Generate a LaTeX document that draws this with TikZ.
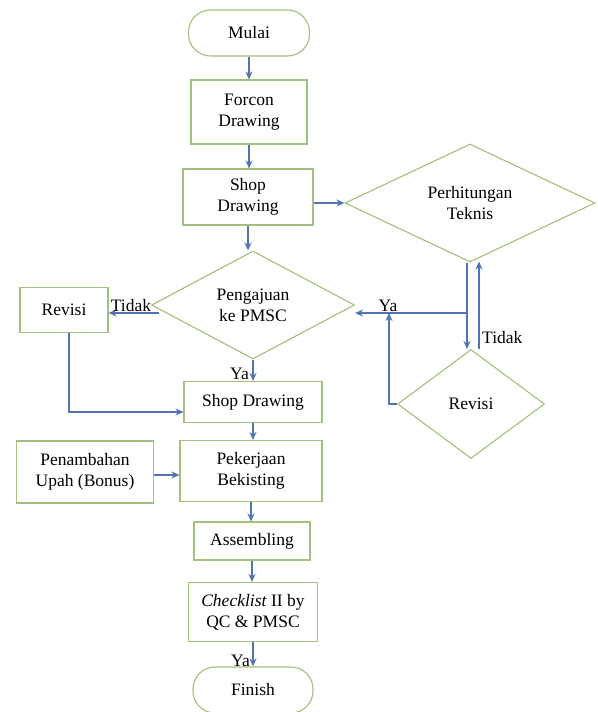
\documentclass[tikz,border=0pt]{standalone}
\usepackage{fontspec}
\setmainfont{Liberation Serif}
\usetikzlibrary{shapes.geometric,arrows.meta,calc}
\definecolor{boxgreen}{RGB}{163,192,124}
\definecolor{arrblue}{RGB}{82,116,178}
\tikzset{
  txt/.style={font=\fontsize{17.5}{21}\selectfont, align=center, text=black},
  procbox/.style={draw=boxgreen, line width=1.1pt, fill=white, rectangle, inner sep=0pt, txt},
  termbox/.style={procbox, rounded corners=22pt},
  decbox/.style={draw=boxgreen, line width=1.1pt, diamond, inner sep=0pt},
  arr/.style={draw=arrblue, line width=1.4pt, -{Stealth[length=8pt,width=7pt]}},
  lbl/.style={txt, inner sep=0pt}
}
\begin{document}
\begin{tikzpicture}[x=1pt,y=-1pt]
\useasboundingbox (0,0) rectangle (597,712);
\clip (0,0) rectangle (597,712);
\fill[white] (0,0) rectangle (597,712);

% main column
\node[termbox, minimum width=121pt, minimum height=46pt] (mulai) at (249,33) {Mulai};
\node[procbox, minimum width=116pt, minimum height=64pt] (forcon) at (249,112) {Forcon\\Drawing};
\node[procbox, minimum width=130pt, minimum height=56pt] (sd1) at (248,197) {Shop\\Drawing};
\node[decbox, minimum width=203pt, minimum height=108pt] (pmsc) at (253,305) {};
\node[lbl] at (pmsc) {Pengajuan\\ke PMSC};
\node[procbox, minimum width=88pt, minimum height=45pt] (revL) at (64,310) {Revisi};
\node[procbox, minimum width=138pt, minimum height=41pt] (sd2) at (253,402) {Shop Drawing};
\node[procbox, minimum width=137pt, minimum height=62pt] (bonus) at (85,472) {Penambahan\\Upah (Bonus)};
\node[procbox, minimum width=142pt, minimum height=61pt] (pek) at (251,471) {Pekerjaan\\Bekisting};
\node[procbox, minimum width=116pt, minimum height=38pt] (asm) at (252,541) {Assembling};
\node[procbox, minimum width=129pt, minimum height=59pt] (check) at (253,612) {\textit{Checklist} II by\\QC \& PMSC};
\node[termbox, minimum width=120pt, minimum height=46pt] (finish) at (253,690) {Finish};

% right branch
\node[decbox, minimum width=250pt, minimum height=118pt] (hitung) at (470,203) {};
\node[lbl] at (hitung) {Perhitungan\\Teknis};
\node[decbox, minimum width=147pt, minimum height=109pt] (revR) at (471,404) {};
\node[lbl] at (revR) {Revisi};

% helper coordinates
\coordinate (yaRow) at (0,313);
\coordinate (dn) at ($(hitung.south)+(-3,0)$);
\coordinate (up) at ($(revR.north)+(8,0)$);
\coordinate (join) at (389,313);

% connectors main column
\draw[arr] (mulai.south) -- (mulai.south |- forcon.north);
\draw[arr] (forcon.south) -- (forcon.south |- sd1.north);
\draw[arr] (sd1.east |- hitung.west) -- (hitung.west);
\draw[arr] (sd1.south) -- (sd1.south |- pmsc.north);
\draw[arr] ($(pmsc.west)+(8,8)$) -- (revL.east |- yaRow);
\node[lbl, anchor=south] at (131,312) {Tidak};
\draw[arr] ($(revL.south)+(5,0)$) |- ($(sd2.west)+(0,10)$);
\draw[arr] (pmsc.south) -- (pmsc.south |- sd2.north);
\node[lbl, anchor=east] at (249,374) {Ya};
\draw[arr] (sd2.south) -- (sd2.south |- pek.north);
\draw[arr] ($(bonus.east)+(0,3)$) -- ($(bonus.east -| pek.west)+(0,3)$);
\draw[arr] (pek.south) -- (pek.south |- asm.north);
\draw[arr] (asm.south) -- (asm.south |- check.north);
\draw[arr] (check.south) -- (check.south |- finish.north);
\node[lbl, anchor=east] at (250,661) {Ya};

% connectors right branch
\draw[arr] (dn) -- (dn |- revR.north);
\draw[arr] (up) -- ($(up |- hitung.south)+(0,-1)$);
\node[lbl, anchor=west] at (482,338) {Tidak};
\draw[arr] (dn |- yaRow) -- (pmsc.east |- yaRow);
\node[lbl, anchor=south] at (388,312) {Ya};
\draw[arr] (revR.west) -| (join);
\end{tikzpicture}
\end{document}
